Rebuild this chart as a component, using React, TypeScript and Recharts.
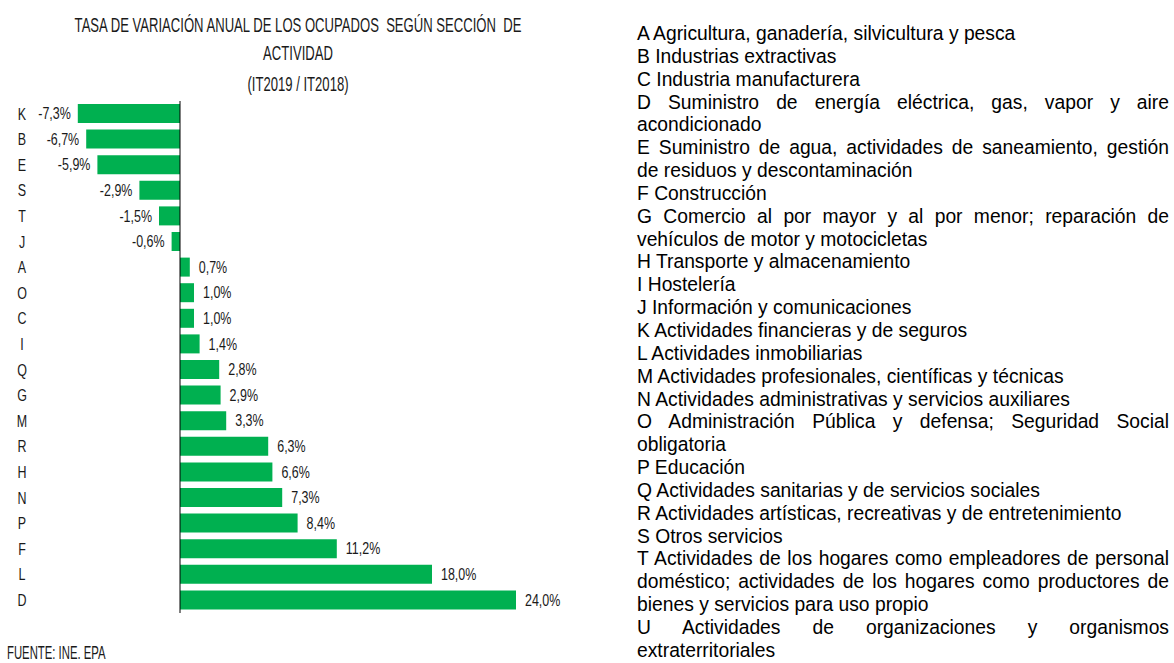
import React from "react";
import { BarChart, Bar, XAxis, YAxis, ReferenceLine, LabelList } from "recharts";

const categories = ["K", "B", "E", "S", "T", "J", "A", "O", "C", "I", "Q", "G", "M", "R", "H", "N", "P", "F", "L", "D"];
const values = [-7.3, -6.7, -5.9, -2.9, -1.5, -0.6, 0.7, 1.0, 1.0, 1.4, 2.8, 2.9, 3.3, 6.3, 6.6, 7.3, 8.4, 11.2, 18.0, 24.0];
const titleLines = [
  "TASA DE VARIACIÓN ANUAL DE LOS OCUPADOS  SEGÚN SECCIÓN  DE",
  "ACTIVIDAD",
  "(IT2019 / IT2018)",
];
const sourceText = "FUENTE: INE. EPA";
const sectionNames = [
  "A Agricultura, ganadería, silvicultura y pesca",
  "B Industrias extractivas",
  "C Industria manufacturera",
  "D Suministro de energía eléctrica, gas, vapor y aire acondicionado",
  "E Suministro de agua, actividades de saneamiento, gestión de residuos y descontaminación",
  "F Construcción",
  "G Comercio al por mayor y al por menor; reparación de vehículos de motor y motocicletas",
  "H Transporte y almacenamiento",
  "I Hostelería",
  "J Información y comunicaciones",
  "K Actividades financieras y de seguros",
  "L Actividades inmobiliarias",
  "M Actividades profesionales, científicas y técnicas",
  "N Actividades administrativas y servicios auxiliares",
  "O Administración Pública y defensa; Seguridad Social obligatoria",
  "P Educación",
  "Q Actividades sanitarias y de servicios sociales",
  "R Actividades artísticas, recreativas y de entretenimiento",
  "S Otros servicios",
  "T Actividades de los hogares como empleadores de personal doméstico; actividades de los hogares como productores de bienes y servicios para uso propio",
  "U Actividades de organizaciones y organismos extraterritoriales",
];

const data = categories.map((c, i) => ({ name: c, value: values[i] }));

const FONT = "'Liberation Sans', Arial, sans-serif";
const GREEN = "#00B050";
const TXT = "#1a1a1a";

const fmt = (v: number) => v.toFixed(1).replace(".", ",") + "%";

const renderLabel = (props: any) => {
  const { x, y, width, height, value } = props;
  const left = Math.min(x, x + width);
  const right = Math.max(x, x + width);
  const cy = y + height / 2;
  const neg = value < 0;
  const tx = neg ? left - 7 : right + 9;
  return (
    <text
      transform={`translate(${tx},${cy}) scale(0.78,1)`}
      x={0}
      y={0}
      dy="0.36em"
      textAnchor={neg ? "end" : "start"}
      fontSize={16}
      fontFamily={FONT}
      fill={TXT}
    >
      {fmt(value)}
    </text>
  );
};

const CatTick = (props: any) => {
  const { y, payload } = props;
  return (
    <text transform={`translate(22,${y}) scale(0.78,1)`} x={0} y={0} dy="0.36em" textAnchor="middle" fontSize={16} fontFamily={FONT} fill={TXT}>
      {payload.value}
    </text>
  );
};

const titleBaselines = [31.5, 60, 91];

export default function App() {
  return (
    <div style={{ position: "absolute", left: 0, top: 0, width: 1174, height: 663, background: "#fff", overflow: "hidden" }}>
      <div style={{ position: "absolute", left: 0, top: 0 }}>
        <BarChart width={580} height={663} data={data} layout="vertical" margin={{ top: 101, bottom: 50, left: 0, right: 36 }}>
          <XAxis type="number" hide domain={[-8, 26]} />
          <YAxis type="category" dataKey="name" width={68} axisLine={false} tickLine={false} tick={<CatTick />} interval={0} />
          <Bar dataKey="value" fill={GREEN} barSize={19} isAnimationActive={false}>
            <LabelList dataKey="value" content={renderLabel} />
          </Bar>
          <ReferenceLine x={0} stroke="#000" strokeWidth={1} />
        </BarChart>
      </div>
      <svg style={{ position: "absolute", left: 0, top: 0 }} width={600} height={663}>
        {titleLines.map((t, i) => (
          <text
            key={i}
            transform={`translate(298,${titleBaselines[i]}) scale(0.655,1)`}
            x={0}
            y={0}
            textAnchor="middle"
            fontSize={20}
            fontFamily={FONT}
            fill={TXT}
            style={{ whiteSpace: "pre" }}
          >
            {t}
          </text>
        ))}
        <text transform="translate(7,659) scale(0.63,1)" x={0} y={0} fontSize={18} fontFamily={FONT} fill={TXT}>
          {sourceText}
        </text>
      </svg>
      <div style={{ position: "absolute", left: 637, top: 23, width: 532, fontFamily: FONT, fontSize: 19.3, lineHeight: "22.85px", color: "#000", textAlign: "justify" }}>
        {sectionNames.map((s, i) => (
          <div key={i}>{s}</div>
        ))}
      </div>
    </div>
  );
}
